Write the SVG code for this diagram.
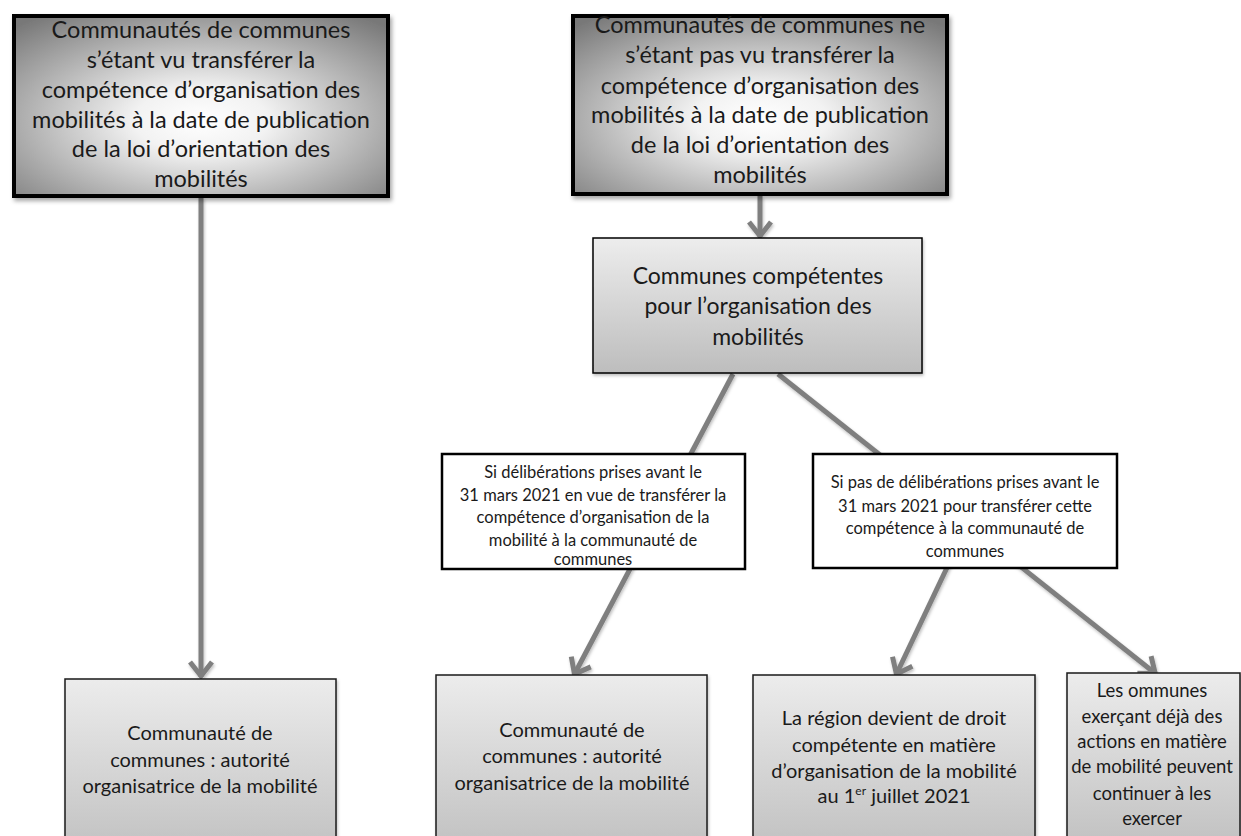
<svg xmlns="http://www.w3.org/2000/svg" width="1241" height="836" viewBox="0 0 1241 836">
<defs>
  <radialGradient id="gTop" cx="50%" cy="58%" r="72%" fx="50%" fy="58%">
    <stop offset="0" stop-color="#ffffff"/>
    <stop offset="0.25" stop-color="#f2f2f2"/>
    <stop offset="1" stop-color="#787878"/>
  </radialGradient>
  <linearGradient id="gMid" x1="0" y1="0" x2="0" y2="1">
    <stop offset="0" stop-color="#ededed"/>
    <stop offset="1" stop-color="#bdbdbd"/>
  </linearGradient>
  <linearGradient id="gBot" x1="0" y1="0" x2="0" y2="1">
    <stop offset="0" stop-color="#ececec"/>
    <stop offset="1" stop-color="#bdbdbd"/>
  </linearGradient>
  <filter id="shadow" x="-10%" y="-10%" width="130%" height="130%">
    <feDropShadow dx="2" dy="3" stdDeviation="2" flood-color="#000" flood-opacity="0.35"/>
  </filter>
  <filter id="lshadow" x="-20%" y="-20%" width="140%" height="140%">
    <feDropShadow dx="1" dy="2" stdDeviation="1.5" flood-color="#000" flood-opacity="0.25"/>
  </filter>
  <marker id="arr" markerUnits="userSpaceOnUse" markerWidth="40" markerHeight="40" refX="0" refY="0" orient="auto" overflow="visible" viewBox="-20 -20 40 40">
    <path d="M -15 -11 L -1 0 L -15 11" fill="none" stroke="#7f7f7f" stroke-width="5" stroke-linejoin="miter"/>
  </marker>
  <style>
    text { font-family: "Lato", "Carlito", "Liberation Sans", sans-serif; fill: #1a1a1a; text-anchor: middle; }
    .big { font-size: 23.5px; }
    .mc { font-size: 23px; }
    .mid { font-size: 20px; }
    .small { font-size: 16.5px; }
    .d { font-size: 18.5px; }
    .top { fill: url(#gTop); stroke: #000; stroke-width: 4; filter: url(#shadow); }
    .midbox { fill: url(#gMid); stroke: #000; stroke-width: 1.5; filter: url(#lshadow); }
    .dec { fill: #fff; stroke: #000; stroke-width: 2.5; }
    .bot { fill: url(#gBot); stroke: #1a1a1a; stroke-width: 1.5; filter: url(#lshadow); }
    .conn { stroke: #7f7f7f; stroke-width: 5; fill: none; marker-end: url(#arr); }
  </style>
</defs>
<rect width="1241" height="836" fill="#fff"/>

<g id="connectors" filter="url(#lshadow)">
  <line class="conn" x1="201" y1="197" x2="201" y2="677"/>
  <line class="conn" x1="760" y1="196" x2="760" y2="237"/>
  <line class="conn" x1="733" y1="374" x2="574" y2="675"/>
  <line class="conn" x1="778" y1="374" x2="1156" y2="674"/>
  <line class="conn" x1="953" y1="555" x2="896" y2="675"/>
</g>

<g id="top-left">
  <rect class="top" x="14" y="16" width="374" height="180"/>
  <text class="big" x="201" y="38">Communautés de communes</text>
  <text class="big" x="201" y="68">s’étant vu transférer la</text>
  <text class="big" x="201" y="98">compétence d’organisation des</text>
  <text class="big" x="201" y="128">mobilités à la date de publication</text>
  <text class="big" x="201" y="157">de la loi d’orientation des</text>
  <text class="big" x="201" y="187">mobilités</text>
</g>

<g id="top-right">
  <rect class="top" x="573" y="16" width="374" height="178"/>
  <text class="big" x="760" y="33">Communautés de communes ne</text>
  <text class="big" x="760" y="63">s’étant pas vu transférer la</text>
  <text class="big" x="760" y="94">compétence d’organisation des</text>
  <text class="big" x="760" y="123">mobilités à la date de publication</text>
  <text class="big" x="760" y="153">de la loi d’orientation des</text>
  <text class="big" x="760" y="183">mobilités</text>
</g>

<g id="communes-competentes">
  <rect class="midbox" x="593" y="238" width="329" height="135"/>
  <text class="mc" x="758" y="284">Communes compétentes</text>
  <text class="mc" x="758" y="314">pour l’organisation des</text>
  <text class="mc" x="758" y="345">mobilités</text>
</g>

<g id="si-deliberations">
  <rect class="dec" x="442" y="454" width="303" height="115"/>
  <text class="small" x="593" y="478">Si délibérations prises avant le</text>
  <text class="small" x="593" y="501">31 mars 2021 en vue de transférer la</text>
  <text class="small" x="593" y="523">compétence d’organisation de la</text>
  <text class="small" x="593" y="546">mobilité à la communauté de</text>
  <text class="small" x="593" y="565">communes</text>
</g>

<g id="si-pas-deliberations">
  <rect class="dec" x="813" y="454" width="304" height="114"/>
  <text class="small" x="965" y="488">Si pas de délibérations prises avant le</text>
  <text class="small" x="965" y="512">31 mars 2021 pour transférer cette</text>
  <text class="small" x="965" y="534">compétence à la communauté de</text>
  <text class="small" x="965" y="557">communes</text>
</g>

<g id="cc-aom-1">
  <rect class="bot" x="65" y="679" width="271" height="190"/>
  <text class="mid" x="200" y="740">Communauté de</text>
  <text class="mid" x="200" y="767">communes : autorité</text>
  <text class="mid" x="200" y="793">organisatrice de la mobilité</text>
</g>

<g id="cc-aom-2">
  <rect class="bot" x="436" y="675" width="271" height="190"/>
  <text class="mid" x="572" y="737">Communauté de</text>
  <text class="mid" x="572" y="763">communes : autorité</text>
  <text class="mid" x="572" y="790">organisatrice de la mobilité</text>
</g>

<g id="region">
  <rect class="bot" x="753" y="675" width="282" height="190"/>
  <text class="mid" x="894" y="725">La région devient de droit</text>
  <text class="mid" x="894" y="752">compétente en matière</text>
  <text class="mid" x="894" y="778">d’organisation de la mobilité</text>
  <text class="mid" x="894" y="803">au 1<tspan font-size="12" dy="-8">er</tspan><tspan dy="8"> juillet 2021</tspan></text>
</g>

<g id="communes-exercant">
  <rect class="bot" x="1067" y="673" width="173" height="190"/>
  <text class="d" x="1152" y="697">Les ommunes</text>
  <text class="d" x="1152" y="723">exerçant déjà des</text>
  <text class="d" x="1152" y="748">actions en matière</text>
  <text class="d" x="1152" y="773">de mobilité peuvent</text>
  <text class="d" x="1152" y="800">continuer à les</text>
  <text class="d" x="1152" y="825">exercer</text>
</g>
</svg>
